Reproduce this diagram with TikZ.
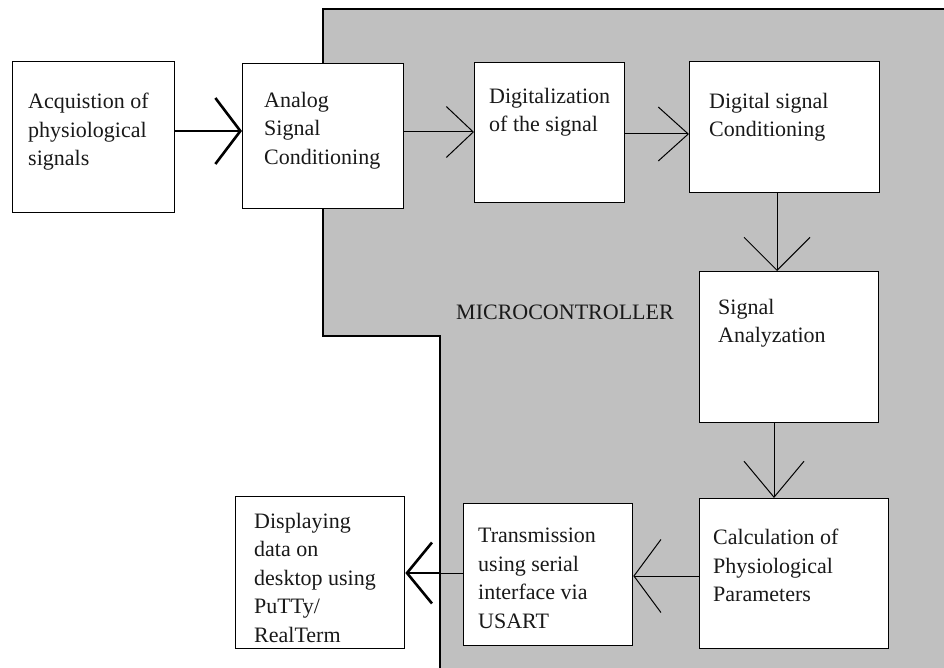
\documentclass[tikz,border=0pt]{standalone}
\usepackage{fontspec}
\setmainfont{Liberation Serif}
\usetikzlibrary{arrows.meta,calc}
\definecolor{mcgrey}{RGB}{192,192,192}
\begin{document}
\begin{tikzpicture}[x=1pt,y=-1pt,
 box/.style={draw=black, fill=white, line width=1.3pt, inner sep=0pt, anchor=north west},
 txt/.style={anchor=north west, inner sep=0pt, align=left, text=black!90, font=\fontsize{22}{28.5}\selectfont},
 conn/.style={line width=1pt},
 thickconn/.style={line width=2.6pt}]
\useasboundingbox (0,0) rectangle (944,668);
\fill[white] (0,0) rectangle (944,668);
% microcontroller region
\fill[mcgrey] (323,9) -- (944,9) -- (944,668) -- (440,668) -- (440,336) -- (323,336) -- cycle;
\draw[line width=1.5pt] (944,9) -- (323,9) -- (323,336) -- (440,336) -- (440,668);
% boxes
\node[box, minimum width=162pt, minimum height=151pt] (acq) at (12,61) {};
\node[box, minimum width=161pt, minimum height=145pt] (ana) at (242,63) {};
\node[box, minimum width=150pt, minimum height=140pt] (digz) at (474,62) {};
\node[box, minimum width=190pt, minimum height=131pt] (dcond) at (689,61) {};
\node[box, minimum width=179pt, minimum height=151pt] (sa) at (699,271) {};
\node[box, minimum width=189pt, minimum height=150pt] (calc) at (699,498) {};
\node[box, minimum width=169pt, minimum height=142pt] (trans) at (463,503) {};
\node[box, minimum width=169pt, minimum height=152pt] (disp) at (235,496) {};
% texts
\node[txt] (acqT) at (28,93) {Acquistion of\\physiological\\signals};
\node[txt] (anaT) at (264,92) {Analog\\Signal\\Conditioning};
\node[txt] (digzT) at (489,88) {Digitalization\\of the signal};
\node[txt] (dcondT) at (709,93) {Digital signal\\Conditioning};
\node[txt] (saT) at (718,299) {Signal\\Analyzation};
\node[txt] (calcT) at (713,529) {Calculation of\\Physiological\\Parameters};
\node[txt] (transT) at (478,528) {Transmission\\using serial\\interface via\\USART};
\node[txt] (dispT) at (254,513) {Displaying\\data on\\desktop using\\PuTTy/\\RealTerm};
\node[txt, anchor=base west] (mc) at (456,319) {MICROCONTROLLER};
% connectors
\draw[thickconn, -{Straight Barb[length=25pt,width=66pt]}] (acq.east |- 0,131) -- (ana.west |- 0,131);
\draw[conn, -{Straight Barb[length=27pt,width=51pt]}] (ana.east |- 0,132) -- (digz.west |- 0,132);
\draw[conn, -{Straight Barb[length=30pt,width=54pt]}] (digz.east |- 0,134) -- (dcond.west |- 0,134);
\draw[conn, -{Straight Barb[length=33pt,width=66pt]}] (dcond.south -| 777,0) -- (sa.north -| 777,0);
\draw[conn, -{Straight Barb[length=36pt,width=60pt]}] (sa.south -| 774,0) -- (calc.north -| 774,0);
\draw[conn, -{Straight Barb[length=27pt,width=73pt]}] (calc.west |- 0,576) -- (trans.east |- 0,576);
\coordinate (edge) at (440,573);
\draw[conn] (trans.west |- edge) -- (edge);
\draw[thickconn, -{Straight Barb[length=25pt,width=61pt]}] (edge) -- (disp.east |- edge);
\end{tikzpicture}
\end{document}
